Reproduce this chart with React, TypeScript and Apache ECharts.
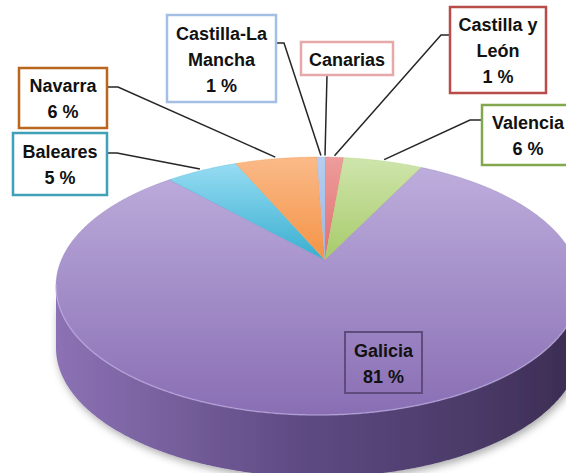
import React, { useEffect, useRef } from 'react';
import * as echarts from 'echarts';

// ---- data (clockwise from 12 o'clock) ----
const names = ['Canarias', 'Castilla y León', 'Valencia', 'Galicia', 'Baleares', 'Navarra', 'Castilla-La Mancha'];
const values = [0, 1.4, 6.0, 80.6, 5.3, 6.1, 0.6];
const labelNames = ['Canarias', 'Castilla y\nLeón', 'Valencia', 'Galicia', 'Baleares', 'Navarra', 'Castilla-La\nMancha'];
const showPercent = [false, true, true, true, true, true, true];

// ---- styles ----
const lightColors = ['#F2B8B8', '#EE9C9C', '#CFE5AC', '#BDADDC', '#96DCF3', '#FABA88', '#B7CEF1'];
const darkColors = ['#E08C8C', '#E06F6F', '#A7CB6A', '#896EB4', '#38AECF', '#F49346', '#98B6E6'];
const borderColors = ['#E6A9A9', '#B84C49', '#83A74E', '#5E4C7C', '#3FA0B8', '#B9661F', '#A3BFE3'];

// ---- layout ----
const CX = 318, CY = 286, RX = 262, RY = 129, AX = 325, AY = 260, DEPTH = 62;
const labelBoxes: number[][] = [
  [301, 42, 92, 33],
  [450, 7, 96, 86],
  [482, 105, 92, 60],
  [345, 332, 77, 61],
  [13, 133, 94, 62],
  [19, 68, 88, 60],
  [167, 15, 109, 87],
];
const leaderStarts: (number[][] | null)[] = [
  [[327, 75]],
  [[450, 35], [441, 35]],
  [[482, 120], [470, 120]],
  null,
  [[107, 153], [117, 153]],
  [[107, 87], [118, 87]],
  [[276, 43], [284, 43]],
];

// perspective projection of the disc (Lorentz boost keeps the rim on the ellipse)
function makeRim() {
  const px = (AX - CX) / RX, py = (AY - CY) / RY;
  const d = Math.hypot(px, py);
  const nx = px / d, ny = py / d;
  const boost = (x: number, y: number, v: number) => {
    const g = 1 / Math.sqrt(1 - v * v);
    const par = x * nx + y * ny;
    const perx = x - par * nx, pery = y - par * ny;
    const t = g * (1 + v * par);
    const p2 = g * (par + v);
    return [(p2 * nx + perx) / t, (p2 * ny + pery) / t];
  };
  const q0 = boost(px, -Math.sqrt(1 - px * px), -d);
  const theta0 = Math.atan2(q0[1], q0[0]);
  return (f: number) => {
    const th = theta0 + 2 * Math.PI * f;
    const [u, v] = boost(Math.cos(th), Math.sin(th), d);
    return [CX + u * RX, CY + v * RY];
  };
}

export default function App() {
  const ref = useRef<HTMLDivElement>(null);
  useEffect(() => {
    if (!ref.current) return;
    const chart = echarts.init(ref.current, undefined, { renderer: 'svg' });
    const rim = makeRim();
    const total = values.reduce((a, b) => a + b, 0);
    const starts: number[] = [];
    let acc = 0;
    values.forEach((v) => { starts.push(acc / total); acc += v; });

    const arcPoints = (i: number) => {
      const f0 = starts[i], f1 = starts[i] + values[i] / total;
      const n = Math.max(2, Math.ceil((f1 - f0) * 1000));
      const pts: number[][] = [];
      for (let k = 0; k <= n; k++) pts.push(rim(f0 + (f1 - f0) * k / n));
      return pts;
    };

    const renderItem = (params: any) => {
      const i = params.dataIndex;
      if (values[i] <= 0) return { type: 'group', children: [] };
      const arc = arcPoints(i);
      const children: any[] = [];
      const front = arc.filter((p) => p[1] >= CY - 2);
      if (front.length > 1) {
        const wall = front.concat(front.slice().reverse().map((p) => [p[0], p[1] + DEPTH]));
        children.push({
          type: 'polygon',
          z2: 1,
          shape: { points: wall },
          style: {
            fill: new echarts.graphic.LinearGradient(CX - RX, 0, CX + RX, 0, [
              { offset: 0, color: '#8C72B4' },
              { offset: 0.3, color: '#6E5894' },
              { offset: 0.5, color: '#5C4880' },
              { offset: 0.8, color: '#4A3A68' },
              { offset: 1, color: '#3A2C50' },
            ], true),
            shadowBlur: 8,
            shadowColor: 'rgba(0,0,0,0.35)',
            shadowOffsetX: 2,
            shadowOffsetY: 3,
          },
        });
        children.push({
          type: 'polyline',
          z2: 12,
          shape: { points: front },
          style: { stroke: 'rgba(200,185,235,0.55)', lineWidth: 1.5, fill: null },
        });
      }
      children.push({
        type: 'polygon',
        z2: 10,
        shape: { points: [[AX, AY]].concat(arc) },
        style: {
          fill: new echarts.graphic.LinearGradient(0, 0, 0, 1, [
            { offset: 0, color: lightColors[i] },
            { offset: 1, color: darkColors[i] },
          ]),
          stroke: darkColors[i],
          lineWidth: 0.3,
        },
      });
      return { type: 'group', children };
    };

    const font = 'bold 18px "Liberation Sans", Arial, sans-serif';
    const graphics: any[] = [];
    names.forEach((_, i) => {
      const [bx, by, bw, bh] = labelBoxes[i];
      const pct = Math.round((values[i] / total) * 100) + ' %';
      const text = showPercent[i] ? labelNames[i] + '\n' + pct : labelNames[i];
      const isInside = i === 3;
      const ls = leaderStarts[i];
      if (ls) {
        const mid = starts[i] + values[i] / total / 2;
        const p = rim(mid);
        const end = [p[0] + (p[0] - AX) * 0.015, p[1] + (p[1] - AY) * 0.015];
        graphics.push({
          type: 'polyline',
          z: 20,
          shape: { points: ls.concat([end]) },
          style: { stroke: '#262626', lineWidth: 1.5, fill: null },
        });
      }
      graphics.push({
        type: 'rect',
        z: 20,
        shape: { x: bx, y: by, width: bw, height: bh },
        style: { fill: isInside ? 'rgba(0,0,0,0)' : '#ffffff', stroke: borderColors[i], lineWidth: isInside ? 2 : 2.5 },
      });
      graphics.push({
        type: 'text',
        z: 21,
        x: bx + bw / 2,
        y: by + bh / 2 + 1,
        style: {
          text,
          font,
          fill: '#111111',
          align: 'center',
          verticalAlign: 'middle',
          textAlign: 'center',
          textVerticalAlign: 'middle',
          lineHeight: 26,
        },
      });
    });

    chart.setOption({
      animation: false,
      backgroundColor: '#ffffff',
      series: [
        {
          type: 'custom',
          coordinateSystem: 'none',
          renderItem,
          data: values.map((v, i) => ({ name: names[i], value: [v] })),
          silent: true,
        },
      ],
      graphic: { elements: graphics },
    });
    return () => chart.dispose();
  }, []);
  return (
    <div
      ref={ref}
      style={{ position: 'absolute', left: 0, top: 0, width: 566, height: 473 }}
    />
  );
}
